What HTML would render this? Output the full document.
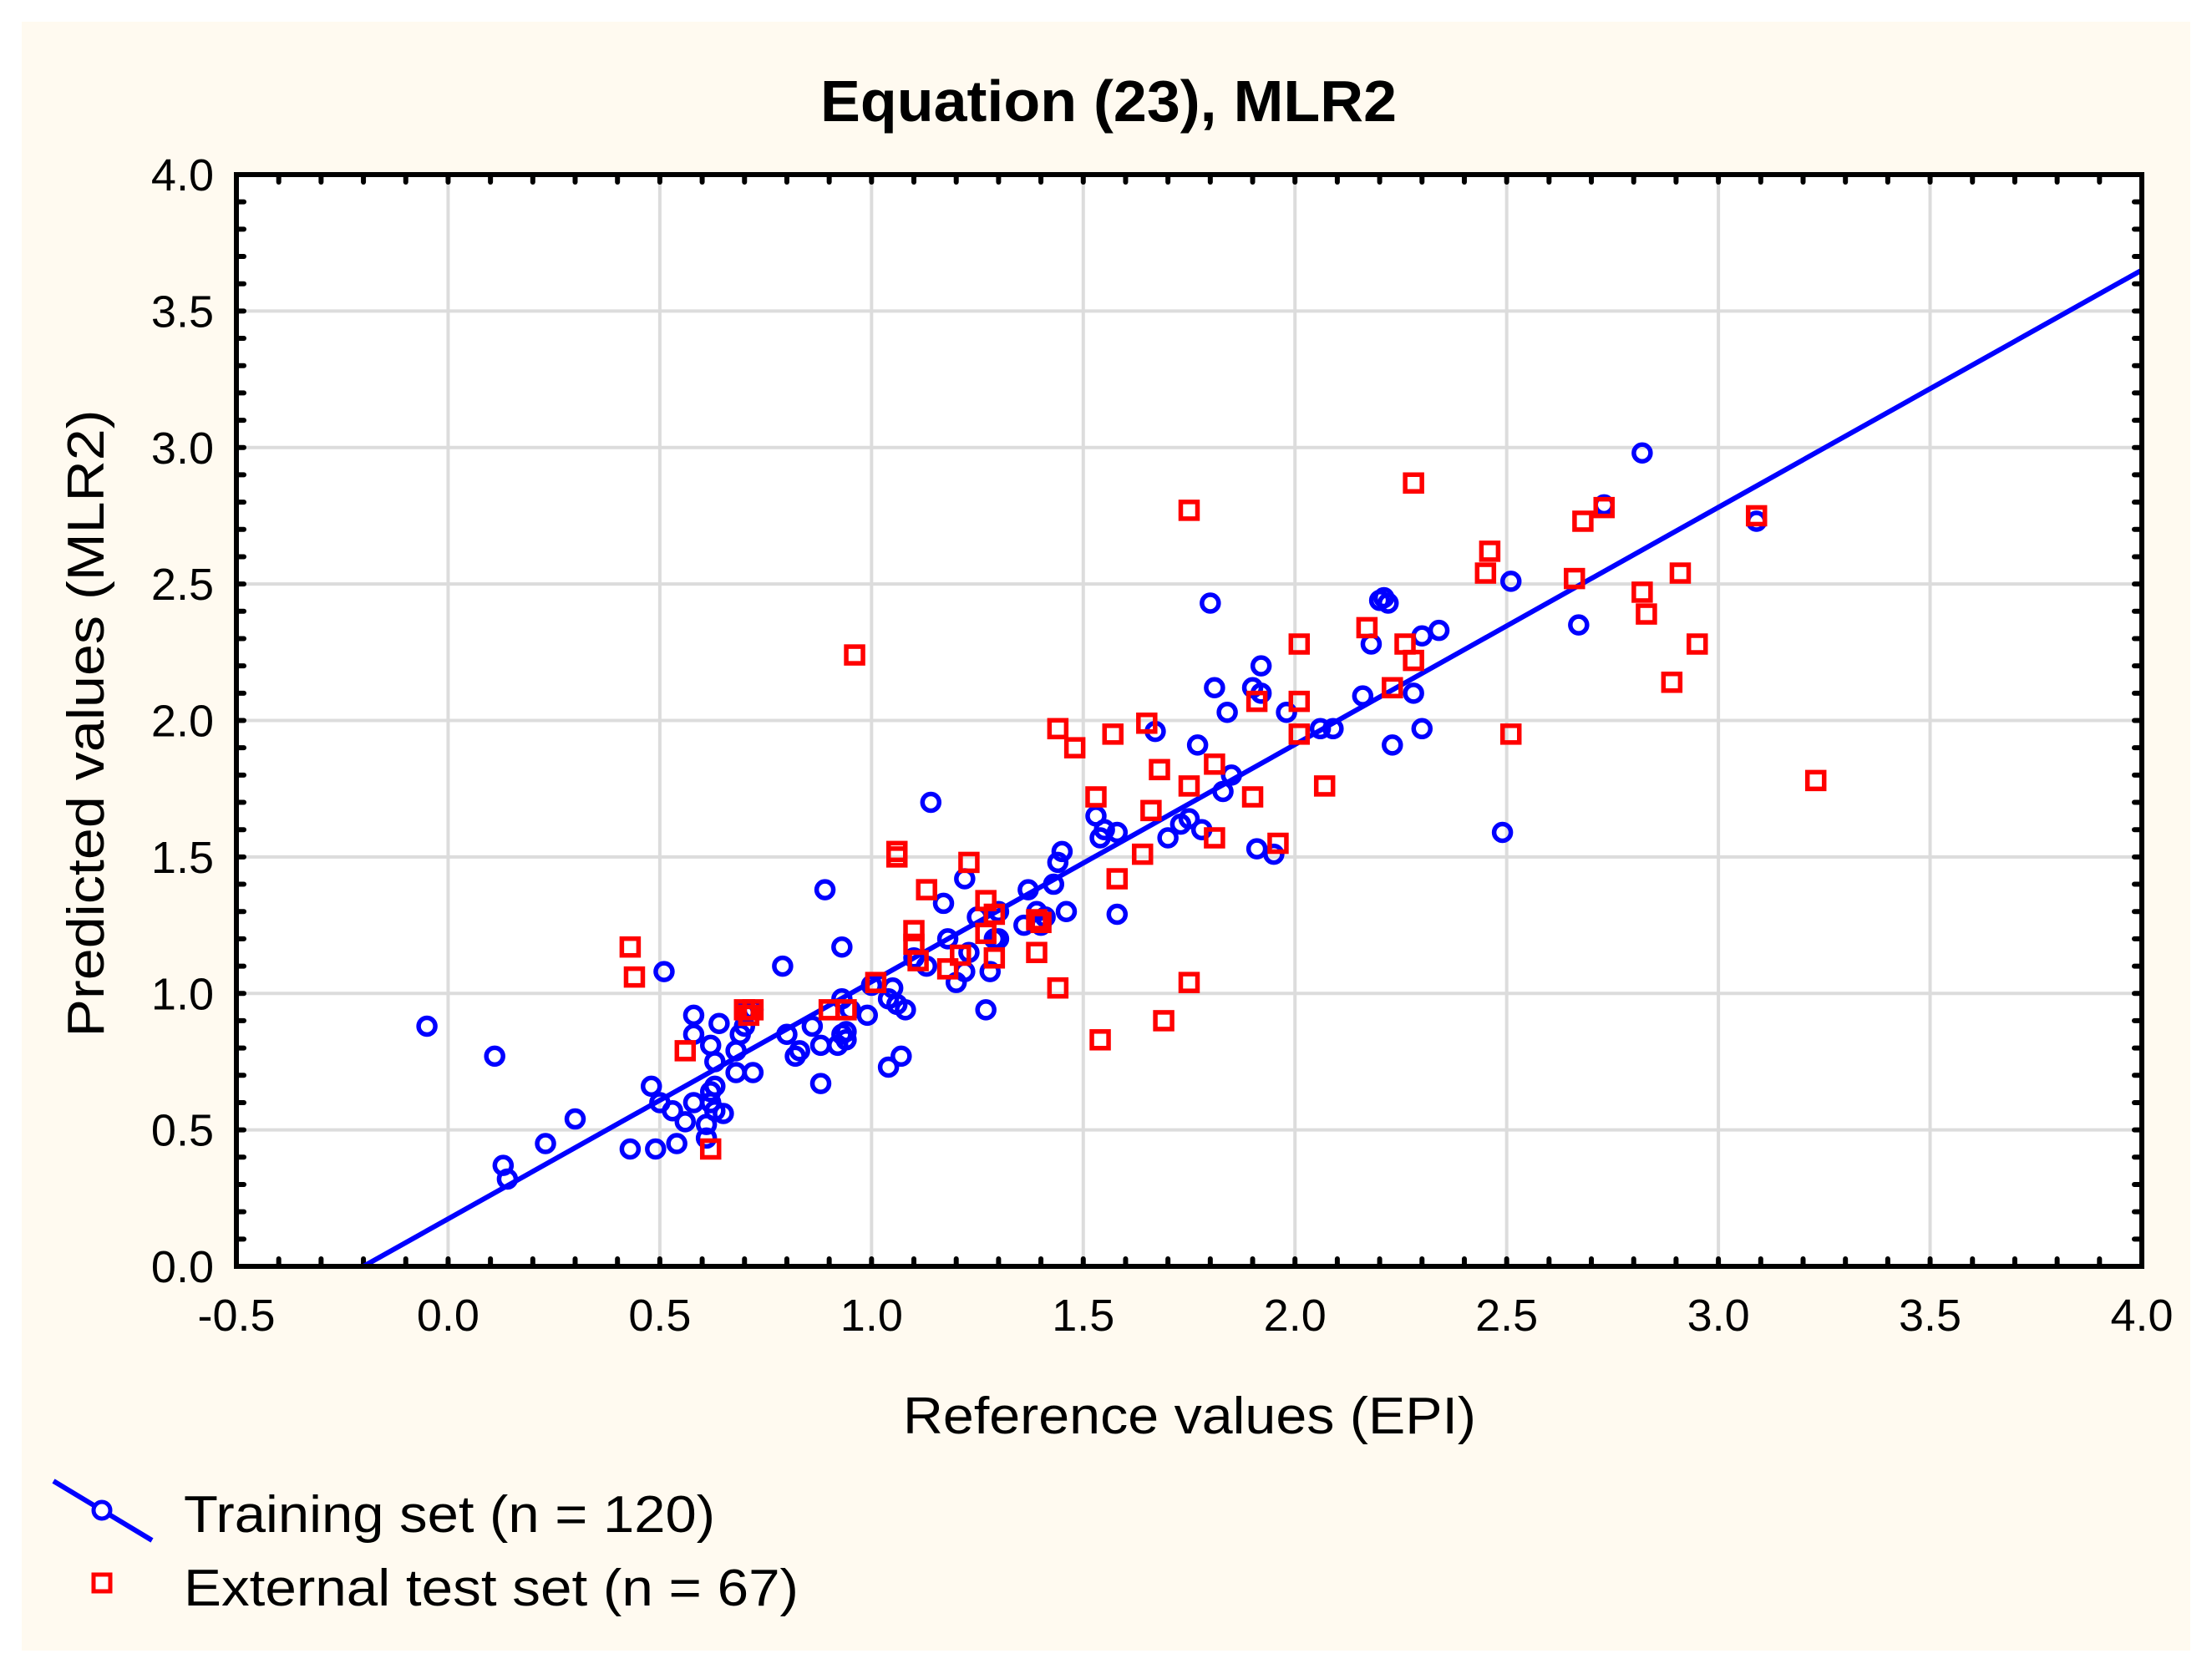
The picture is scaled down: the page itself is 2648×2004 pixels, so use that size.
<!DOCTYPE html>
<html><head><meta charset="utf-8"><style>
html,body{margin:0;padding:0;background:#fff;}
svg{display:block;font-family:"Liberation Sans",Arial,sans-serif;}
</style></head><body>
<svg id="chart" width="2648" height="2004" viewBox="0 0 2648 2004">
<rect x="26" y="26" width="2596" height="1950" fill="#fffaf0"/>
<rect x="283" y="209" width="2281" height="1307" fill="#ffffff"/>
<g id="grid"></g>
<g id="ticks"></g>
<g id="marks"></g>
<rect x="283" y="209" width="2281" height="1307" fill="none" stroke="#000" stroke-width="6"/>
<text x="1327" y="145" text-anchor="middle" font-size="70" font-weight="bold" textLength="690" lengthAdjust="spacingAndGlyphs">Equation (23), MLR2</text>
<text x="1424" y="1716" text-anchor="middle" font-size="62" textLength="686" lengthAdjust="spacingAndGlyphs">Reference values (EPI)</text>
<text transform="translate(124,866) rotate(-90)" text-anchor="middle" font-size="62" textLength="751" lengthAdjust="spacingAndGlyphs">Predicted values (MLR2)</text>
<g>
<line x1="64" y1="1773" x2="182" y2="1844" stroke="#0000ff" stroke-width="6"/>
<circle cx="122" cy="1808" r="10" fill="#fff" stroke="#0000ff" stroke-width="5"/>
<text x="220" y="1834" font-size="62" textLength="636" lengthAdjust="spacingAndGlyphs">Training set (n = 120)</text>
<rect x="112" y="1885" width="20" height="20" fill="#fff" stroke="#ff0000" stroke-width="5"/>
<text x="220" y="1922" font-size="62" textLength="736" lengthAdjust="spacingAndGlyphs">External test set (n = 67)</text>
</g>
</svg>
<script>
const xTicks = [-0.5,0.0,0.5,1.0,1.5,2.0,2.5,3.0,3.5,4.0];
const yTicks = [0.0,0.5,1.0,1.5,2.0,2.5,3.0,3.5,4.0];
const trainX = [-0.05,0.11,0.13,0.14,0.23,0.30,0.43,0.48,0.49,0.50,0.51,0.53,0.54,0.56,0.58,0.58,0.58,0.61,0.61,0.62,0.62,0.62,0.63,0.63,0.64,0.65,0.68,0.68,0.69,0.70,0.72,0.72,0.79,0.80,0.82,0.83,0.86,0.88,0.88,0.89,0.92,0.93,0.93,0.93,0.94,0.95,0.99,1.00,1.04,1.04,1.05,1.06,1.07,1.08,1.13,1.14,1.17,1.18,1.20,1.22,1.22,1.23,1.25,1.27,1.28,1.30,1.30,1.36,1.37,1.39,1.40,1.41,1.43,1.44,1.45,1.46,1.53,1.54,1.55,1.58,1.58,1.67,1.70,1.73,1.75,1.77,1.78,1.80,1.81,1.83,1.84,1.85,1.90,1.91,1.92,1.92,1.95,1.98,2.06,2.09,2.16,2.18,2.21,2.22,2.23,2.28,2.30,2.30,2.34,2.49,2.51,2.67,2.73,2.82,3.09,1.29,0.63,0.70,0.94,1.10,2.20];
const trainY = [0.88,0.77,0.37,0.32,0.45,0.54,0.43,0.66,0.43,0.60,1.08,0.57,0.45,0.53,0.60,0.85,0.92,0.47,0.52,0.60,0.64,0.81,0.75,0.57,0.89,0.56,0.71,0.79,0.85,0.88,0.71,0.94,1.10,0.85,0.77,0.79,0.88,0.67,0.81,1.38,0.81,0.85,0.98,1.17,0.86,0.94,0.92,1.03,0.73,0.98,1.02,0.96,0.77,0.94,1.10,1.70,1.33,1.20,1.04,1.08,1.42,1.15,1.28,0.94,1.08,1.30,1.20,1.25,1.38,1.30,1.25,1.28,1.40,1.48,1.52,1.30,1.65,1.57,1.60,1.59,1.29,1.96,1.57,1.62,1.64,1.91,1.60,2.43,2.12,1.74,2.03,1.80,2.12,1.53,2.20,2.10,1.51,2.03,1.97,1.97,2.09,2.28,2.45,2.43,1.91,2.10,2.31,1.97,2.33,1.59,2.51,2.35,2.79,2.98,2.73,1.20,0.66,0.93,0.83,1.13,2.44];
const testX = [0.43,0.44,0.56,0.62,0.70,0.71,0.72,0.90,0.94,0.96,1.01,1.06,1.06,1.10,1.10,1.11,1.13,1.18,1.21,1.23,1.27,1.27,1.29,1.29,1.39,1.39,1.40,1.44,1.44,1.48,1.53,1.54,1.57,1.58,1.64,1.65,1.66,1.68,1.69,1.75,1.75,1.75,1.81,1.81,1.90,1.91,1.96,2.01,2.01,2.01,2.07,2.17,2.23,2.26,2.28,2.28,2.45,2.46,2.51,2.66,2.68,2.73,2.82,2.83,2.89,2.91,2.95,3.09,3.23];
const testY = [1.17,1.06,0.79,0.43,0.94,0.92,0.94,0.94,0.94,2.24,1.04,1.52,1.50,1.23,1.18,1.12,1.38,1.09,1.14,1.48,1.34,1.22,1.13,1.29,1.15,1.27,1.26,1.97,1.02,1.90,1.72,0.83,1.95,1.42,1.51,1.99,1.67,1.82,0.90,2.77,1.76,1.04,1.84,1.57,1.72,2.07,1.55,2.28,2.07,1.95,1.76,2.34,2.12,2.28,2.22,2.87,2.54,2.62,1.95,2.52,2.73,2.78,2.47,2.39,2.14,2.54,2.28,2.75,1.78];
const fitSlope = 0.869;
const fitIntercept = 0.174;

const NS = 'http://www.w3.org/2000/svg';
const X0=283, X1=2564, Y0=1516, Y1=209, xmin=-0.5, xmax=4.0, ymin=0, ymax=4.0;
function sx(v){return X0+(v-xmin)/(xmax-xmin)*(X1-X0);}
function sy(v){return Y0-(v-ymin)/(ymax-ymin)*(Y0-Y1);}
function mk(tag, attrs, parent){const e=document.createElementNS(NS,tag);for(const k in attrs)e.setAttribute(k,attrs[k]);parent.appendChild(e);return e;}
const svg=document.getElementById('chart');
const grid=document.getElementById('grid'), ticks=document.getElementById('ticks'), marks=document.getElementById('marks');

xTicks.forEach(t=>{
  const x=sx(t);
  if(t>xmin && t<xmax){
    const g=mk('line',{x1:x,y1:Y1,x2:x,y2:Y0,stroke:'#dcdcdc','stroke-width':4},grid);
    
    
  }
  const lb=mk('text',{x:x,y:1593,'text-anchor':'middle','font-size':54},svg);
  lb.textContent=t.toFixed(1);
  
  
});
yTicks.forEach(t=>{
  const y=sy(t);
  if(t>ymin && t<ymax){
    const g=mk('line',{x1:X0,y1:y,x2:X1,y2:y,stroke:'#dcdcdc','stroke-width':4},grid);
    
    
  }
  const lb=mk('text',{x:256,y:y+19,'text-anchor':'end','font-size':54},svg);
  lb.textContent=t.toFixed(1);
  
  
});
for(let i=1;i<45;i++){
  const x=sx(xmin+i*0.1);
  const a=mk('line',{x1:x,y1:Y1,x2:x,y2:Y1+9,stroke:'#000','stroke-width':6,'stroke-linecap':'round'},ticks);
  
  
  const b=mk('line',{x1:x,y1:Y0,x2:x,y2:Y0-9,stroke:'#000','stroke-width':6,'stroke-linecap':'round'},ticks);
  
  
}
for(let i=1;i<40;i++){
  const y=sy(i*0.1);
  const a=mk('line',{x1:X0,y1:y,x2:X0+9,y2:y,stroke:'#000','stroke-width':6,'stroke-linecap':'round'},ticks);
  
  
  const b=mk('line',{x1:X1,y1:y,x2:X1-9,y2:y,stroke:'#000','stroke-width':6,'stroke-linecap':'round'},ticks);
  
  
}
const xs=(ymin-fitIntercept)/fitSlope;
const xe=xmax;
const fl=mk('line',{x1:sx(xs),y1:sy(ymin),x2:sx(xe),y2:sy(fitSlope*xe+fitIntercept),stroke:'#0000ff','stroke-width':6},marks);


trainX.forEach((v,i)=>{
  const c=mk('circle',{cx:sx(v),cy:sy(trainY[i]),r:10,fill:'none',stroke:'#0000ff','stroke-width':5.5},marks);
  
  
});
testX.forEach((v,i)=>{
  const r=mk('rect',{x:sx(v)-10,y:sy(testY[i])-10,width:20,height:20,fill:'none',stroke:'#ff0000','stroke-width':5.5},marks);
  
  
});
</script>
</body></html>
